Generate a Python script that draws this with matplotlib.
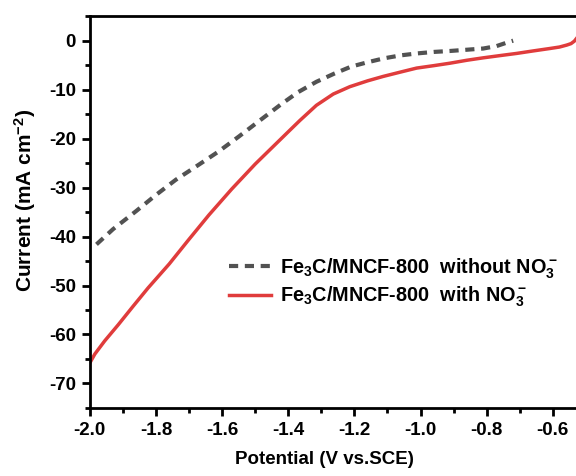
import matplotlib.pyplot as plt
from matplotlib.ticker import MultipleLocator

# values
potential_without = [-1.98, -1.93, -1.86, -1.80, -1.74, -1.67, -1.61, -1.55, -1.49, -1.42,
                     -1.37, -1.315, -1.26, -1.21, -1.16, -1.11, -1.06, -1.01, -0.96,
                     -0.91, -0.86, -0.81, -0.77, -0.735, -0.72]
current_without = [-41.6, -38.5, -34.8, -31.5, -28.4, -25.3, -22.6, -19.6, -16.5, -12.9,
                   -10.5, -8.4, -6.7, -5.3, -4.4, -3.6, -3.0, -2.6, -2.3,
                   -2.1, -1.85, -1.6, -1.1, -0.3, 0.0]

potential_with = [-2.0, -1.985, -1.955, -1.914, -1.87, -1.824, -1.76, -1.703, -1.64, -1.571,
                  -1.50, -1.45, -1.40, -1.365, -1.315, -1.264, -1.214, -1.16, -1.113,
                  -1.06, -1.012, -0.96, -0.911, -0.86, -0.81, -0.76, -0.709, -0.66,
                  -0.609, -0.58, -0.558, -0.545, -0.535, -0.528]
current_with = [-65.8, -64.0, -61.3, -58.0, -54.3, -50.5, -45.6, -40.8, -35.6, -30.3,
                -25.2, -21.9, -18.6, -16.3, -13.2, -10.9, -9.4, -8.2, -7.3,
                -6.4, -5.6, -5.1, -4.6, -4.0, -3.5, -3.05, -2.6, -2.1,
                -1.6, -1.3, -0.9, -0.6, -0.1, 0.5]

labels = [r"Fe$_3$C/MNCF-800  without NO$_3^-$", r"Fe$_3$C/MNCF-800  with NO$_3^-$"]


def _main():
    plt.rcParams["font.family"] = "Liberation Sans"
    plt.rcParams["font.weight"] = "bold"
    plt.rcParams["axes.unicode_minus"] = False
    plt.rcParams["mathtext.fontset"] = "custom"
    plt.rcParams["mathtext.rm"] = "Liberation Sans:bold"
    plt.rcParams["mathtext.bf"] = "Liberation Sans:bold"
    plt.rcParams["mathtext.default"] = "rm"

    fig = plt.figure(figsize=(5.76, 4.76), dpi=100)
    ax = fig.add_axes([0.156, 0.143, 0.844, 0.823])

    ax.plot(potential_without, current_without, color="#525252", lw=3,
            dashes=(2.2, 1.6), label=labels[0])
    ax.plot(potential_with, current_with, color="#e03c3c", lw=2.5, label=labels[1])

    ax.set_xlim(-2.0, -0.53)
    ax.set_ylim(-75, 5)
    ax.xaxis.set_major_locator(MultipleLocator(0.2))
    ax.xaxis.set_minor_locator(MultipleLocator(0.1))
    ax.yaxis.set_major_locator(MultipleLocator(10))
    ax.yaxis.set_minor_locator(MultipleLocator(5))
    ax.tick_params(which="major", length=6, width=2, labelsize=13.5, pad=4)
    ax.tick_params(which="minor", length=3.5, width=2)
    for side in ["left", "bottom", "top"]:
        ax.spines[side].set_linewidth(2)
    ax.spines["right"].set_visible(False)

    ax.set_xlabel("Potential (V vs.SCE)", fontsize=13.5, fontweight="bold")
    ax.set_ylabel(r"Current (mA cm$^{-2}$)", fontsize=15, fontweight="bold")
    ax.xaxis.set_label_coords(0.483, -0.11)
    ax.yaxis.set_label_coords(-0.107, 0.53)

    ax.legend(loc="center left", bbox_to_anchor=(0.25, 0.32), frameon=False,
              fontsize=14.3, handlelength=2.1, handletextpad=0.45, labelspacing=0.2)

    fig.savefig("out.png", dpi=100)


if __name__ == "__main__":
    _main()
